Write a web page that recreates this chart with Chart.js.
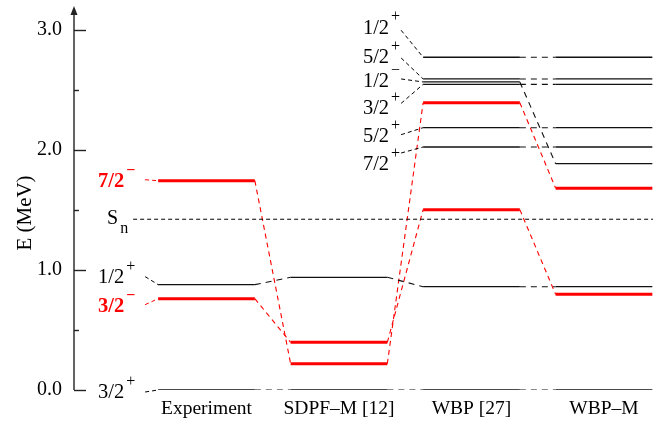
<!DOCTYPE html>
<html>
<head>
<meta charset="utf-8">
<script src="https://cdn.jsdelivr.net/npm/chart.js@4.4.1/dist/chart.umd.min.js"></script>
<style>
  html, body { margin: 0; padding: 0; background: #fff; }
  #wrap { width: 670px; height: 423px; }
</style>
</head>
<body>
<div id="wrap"><canvas id="levels"></canvas></div>
<script>
// level energies in MeV, one entry per state; null = no level in that column
const columns = ['Experiment', 'SDPF\u2013M [12]', 'WBP [27]', 'WBP\u2013M'];
const spins = ['3/2', '1/2', '3/2', '7/2', '7/2', '5/2', '3/2', '1/2', '5/2', '1/2'];
const parities = ['+', '+', '\u2212', '\u2212', '+', '+', '+', '\u2212', '+', '+'];
const highlighted = [false, false, true, true, false, false, false, false, false, false];
const e_experiment = [0.000, 0.878, 0.761, 1.744, null, null, null, null, null, null];
const e_sdpfm = [0.000, 0.939, 0.397, 0.219, null, null, null, null, null, null];
const e_wbp = [0.000, 0.861, 1.503, 2.394, 2.025, 2.186, 2.547, 2.567, 2.592, 2.773];
const e_wbpm = [0.000, 0.861, 0.797, 1.682, 2.025, 2.186, 2.547, 1.886, 2.592, 2.773];
const sn_energy = 1.423;
const y_ticks = [0, 0.5, 1.0, 1.5, 2.0, 2.5, 3.0];
// column whose left side carries the J^pi label of each state
const label_column = [0, 0, 0, 0, 2, 2, 2, 2, 2, 2];

// ---- layout / style only below ----
const HW = 0.365;              // half width of a level bar, x units
const RED = '#ff0000';
const BLACK = '#000000';
const FONT = "'Liberation Serif', 'DejaVu Serif', serif";
// per state: [text dy from level, connector start dy from text] in px
const label_layout = {
  0: [3, -1], 1: [-7, -1], 2: [8, -2], 3: [1, -2],
  4: [18, -12], 5: [9, -2], 6: [24, -5], 7: [0, -3], 8: [-21, 0], 9: [-29, 2]
};

const energies = [e_experiment, e_sdpfm, e_wbp, e_wbpm];
const datasets = [];

// dashed connectors between neighbouring columns
for (let c = 0; c < energies.length - 1; c++) {
  energies[c].forEach((e, s) => {
    const next = energies[c + 1][s];
    if (e === null || next === null) return;
    datasets.push({
      data: [{x: c + HW, y: e}, {x: c + 1 - HW, y: next}],
      borderColor: highlighted[s] ? RED : '#111',
      borderWidth: 1.1,
      borderDash: highlighted[s] ? [5, 4] : [6, 5]
    });
  });
}
// the levels
energies.forEach((col, c) => {
  col.forEach((e, s) => {
    if (e === null) return;
    datasets.push({
      data: [{x: c - HW, y: e}, {x: c + HW, y: e}],
      borderColor: highlighted[s] ? RED : '#111',
      borderWidth: highlighted[s] ? 3 : 1.3
    });
  });
});

const decor = {
  id: 'decor',
  afterDraw(chart) {
    const {ctx, chartArea, scales: {x, y}} = chart;
    const ax = chartArea.left;
    ctx.save();

    // y axis with arrow head
    ctx.strokeStyle = '#222';
    ctx.fillStyle = '#222';
    ctx.lineWidth = 1.4;
    ctx.beginPath();
    ctx.moveTo(ax, y.getPixelForValue(0));
    ctx.lineTo(ax, chartArea.top);
    ctx.stroke();
    ctx.beginPath();
    ctx.moveTo(ax, chartArea.top - 6);
    ctx.lineTo(ax - 3.5, chartArea.top + 3);
    ctx.lineTo(ax + 3.5, chartArea.top + 3);
    ctx.closePath();
    ctx.fill();
    y_ticks.forEach(v => {
      const py = Math.round(y.getPixelForValue(v)) + 0.5;
      ctx.beginPath();
      ctx.moveTo(ax, py);
      ctx.lineTo(ax + (v % 1 === 0 ? 12 : 5), py);
      ctx.stroke();
    });

    // axis title
    ctx.fillStyle = BLACK;
    ctx.font = '21px ' + FONT;
    ctx.textAlign = 'center';
    ctx.textBaseline = 'middle';
    ctx.save();
    ctx.translate(25, 213);
    ctx.rotate(-Math.PI / 2);
    ctx.fillText('E (MeV)', 0, 0);
    ctx.restore();

    // column names
    ctx.font = '19.5px ' + FONT;
    columns.forEach((name, c) => {
      ctx.fillText(name, x.getPixelForValue(c), chartArea.bottom + 19);
    });

    // neutron separation energy
    const x0 = x.getPixelForValue(-HW);
    const ys = y.getPixelForValue(sn_energy);
    ctx.strokeStyle = BLACK;
    ctx.lineWidth = 1;
    ctx.setLineDash([4, 3]);
    ctx.beginPath();
    ctx.moveTo(x0 - 25, ys);
    ctx.lineTo(chartArea.right, ys);
    ctx.stroke();
    ctx.setLineDash([]);
    ctx.font = '20px ' + FONT;
    ctx.textAlign = 'right';
    ctx.fillText('S', x0 - 40, ys);
    ctx.textAlign = 'left';
    ctx.font = '16px ' + FONT;
    ctx.fillText('n', x0 - 38, ys + 10);

    // spin-parity labels with their little connectors
    spins.forEach((j, s) => {
      const c = label_column[s];
      const e = energies[c][s];
      if (e === null) return;
      const [dy, cdy] = label_layout[s];
      const cx = x.getPixelForValue(c - HW);
      const ly = y.getPixelForValue(e);
      const ty = ly + dy;
      const gap = c === 0 ? 13 : 22;
      const col = highlighted[s] ? RED : BLACK;
      ctx.strokeStyle = col;
      ctx.lineWidth = 1;
      ctx.setLineDash([4, 3]);
      ctx.beginPath();
      ctx.moveTo(cx - gap, ty + cdy);
      ctx.lineTo(cx, ly);
      ctx.stroke();
      ctx.setLineDash([]);
      ctx.fillStyle = col;
      const weight = highlighted[s] ? 'bold ' : '';
      ctx.font = weight + '20.5px ' + FONT;
      ctx.textAlign = 'right';
      ctx.fillText(j, cx - 34, ty);
      ctx.font = weight + '16px ' + FONT;
      ctx.textAlign = 'left';
      ctx.fillText(parities[s], cx - 32, ty - 11);
    });
    ctx.restore();
  }
};

Chart.defaults.font.family = FONT;
new Chart(document.getElementById('levels'), {
  type: 'line',
  data: {datasets},
  options: {
    responsive: true,
    maintainAspectRatio: false,
    animation: false,
    events: [],
    layout: {padding: {left: 0, right: 17, top: 12, bottom: 33}},
    plugins: {legend: {display: false}, tooltip: {enabled: false}},
    elements: {point: {radius: 0}, line: {tension: 0, fill: false}},
    scales: {
      x: {type: 'linear', display: false, min: -1.0, max: 3.37},
      y: {
        type: 'linear',
        min: 0,
        max: 3.15,
        border: {display: false},
        grid: {display: false, drawTicks: false},
        ticks: {
          padding: 12,
          color: BLACK,
          font: {size: 20},
          callback: v => (v % 1 === 0 ? v.toFixed(1) : '')
        },
        afterBuildTicks: scale => { scale.ticks = y_ticks.map(v => ({value: v})); },
        afterFit: scale => {
          scale.width = 74;
          scale.paddingTop = 0;
          scale.paddingBottom = 0;
        }
      }
    }
  },
  plugins: [decor]
});
</script>
</body>
</html>
